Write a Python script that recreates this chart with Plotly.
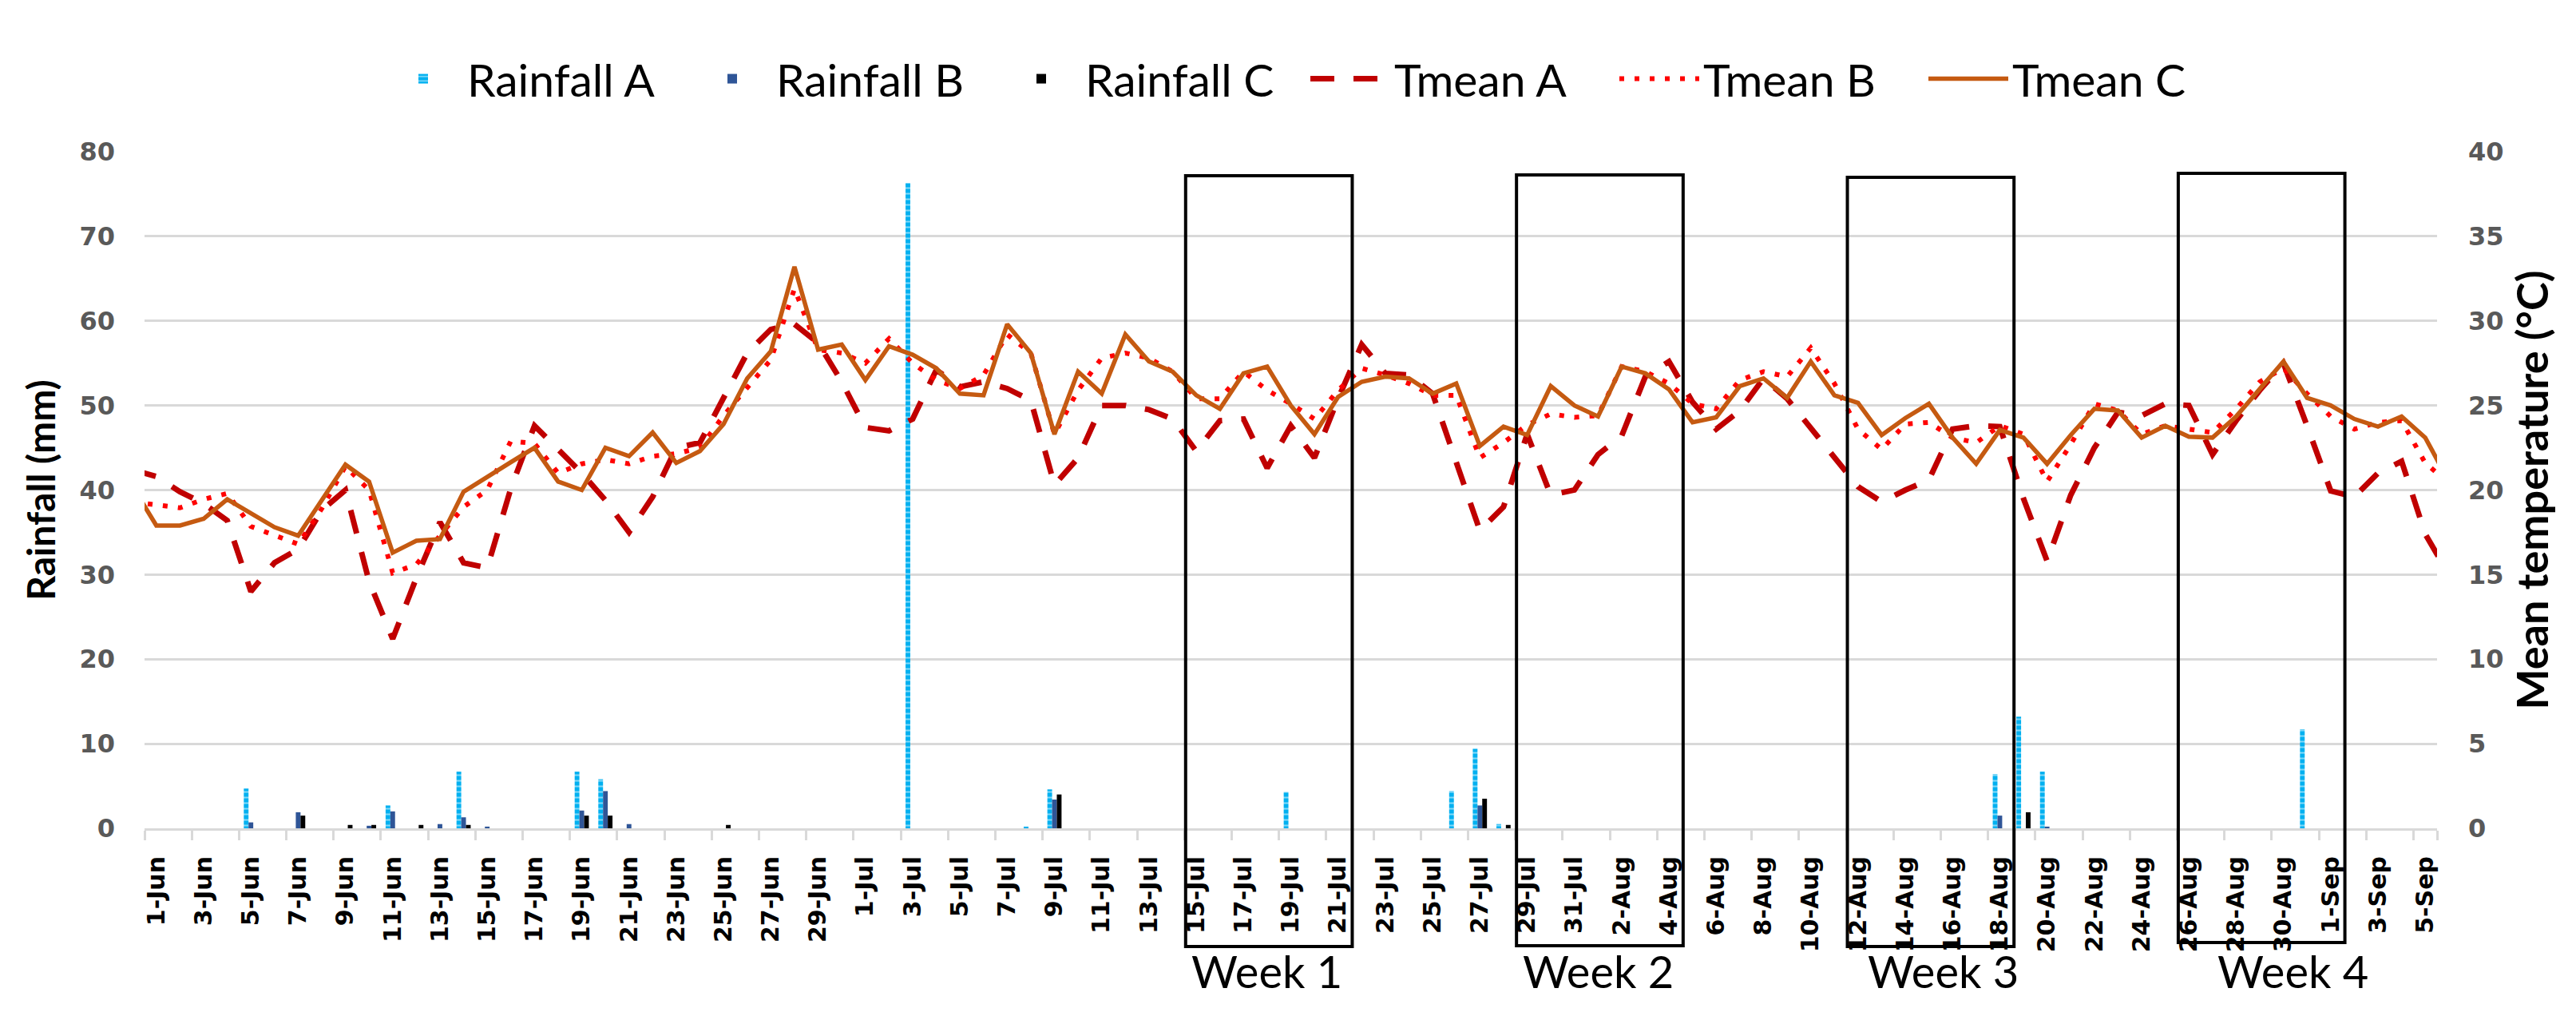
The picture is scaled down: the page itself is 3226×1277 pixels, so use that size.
import pandas as pd
import plotly.graph_objects as go

# ---------------- data ----------------
days = pd.date_range("2019-06-01", "2019-09-05", freq="D")          # 97 days
day_labels = [f"{d.day}-{d.strftime('%b')}" for d in days]

# daily rainfall (mm), 1-Jun .. 5-Sep
rain_a = ([0, 0, 0, 0, 4.7, 0, 0, 0, 0, 0, 2.7, 0, 0, 6.7, 0, 0, 0, 0, 6.7, 5.8,
           0, 0, 0, 0, 0, 0, 0, 0, 0, 0] +
          [0, 0, 76.3, 0, 0, 0, 0, 0.2, 4.6, 0, 0, 0, 0, 0, 0, 0, 0, 0, 4.3, 0,
           0, 0, 0, 0, 0, 4.4, 9.4, 0.5, 0, 0, 0] +
          [0, 0, 0, 0, 0, 0, 0, 0, 0, 0, 0, 0, 0, 0, 0, 0, 0, 6.4, 13.2, 6.7,
           0, 0, 0, 0, 0, 0, 0, 0, 0, 0, 11.7] +
          [0, 0, 0, 0, 0])
rain_b = ([0, 0, 0, 0, 0.7, 0, 1.9, 0, 0, 0.3, 2.0, 0, 0.5, 1.3, 0.2, 0, 0, 0, 2.1, 4.4,
           0.5, 0, 0, 0, 0, 0, 0, 0, 0, 0] +
          [0, 0, 0, 0, 0, 0, 0, 0, 3.4, 0, 0, 0, 0, 0, 0, 0, 0, 0, 0, 0,
           0, 0, 0, 0, 0, 0, 2.7, 0, 0, 0, 0] +
          [0, 0, 0, 0, 0, 0, 0, 0, 0, 0, 0, 0, 0, 0, 0, 0, 0, 1.5, 0, 0.2,
           0, 0, 0, 0, 0, 0, 0, 0, 0, 0, 0] +
          [0, 0, 0, 0, 0])
rain_c = ([0, 0, 0, 0, 0, 0, 1.5, 0, 0.4, 0.4, 0, 0.4, 0, 0.4, 0, 0, 0, 0, 1.5, 1.5,
           0, 0, 0, 0, 0.4, 0, 0, 0, 0, 0] +
          [0, 0, 0, 0, 0, 0, 0, 0, 4.0, 0, 0, 0, 0, 0, 0, 0, 0, 0, 0, 0,
           0, 0, 0, 0, 0, 0, 3.5, 0.4, 0, 0, 0] +
          [0, 0, 0, 0, 0, 0, 0, 0, 0, 0, 0, 0, 0, 0, 0, 0, 0, 0, 1.9, 0,
           0, 0, 0, 0, 0, 0, 0, 0, 0, 0, 0] +
          [0, 0, 0, 0, 0])

# daily mean temperature (degC), 31-May .. 6-Sep (end days fall just outside the axis)
tmean_a = [21.2,
           20.8, 19.9, 19.2, 18.2, 14.0, 15.7, 16.5, 18.8, 20.0, 14.6,
           11.2, 14.8, 18.1, 15.7, 15.4, 20.1, 23.8, 22.4, 21.0, 19.4,
           17.5, 19.6, 22.5, 22.8, 25.4, 28.1, 29.5, 29.8, 28.7, 26.4,
           23.7, 23.5, 24.2, 27.1, 26.1, 26.4, 26.0, 25.3, 20.3, 21.9,
           25.0, 25.0, 24.75, 24.2, 22.3, 24.1, 24.2, 21.3, 23.8, 21.9,
           25.4, 28.6, 26.9, 26.8, 25.7, 21.7, 17.6, 19.0, 23.3, 19.7,
           20.0, 22.1, 23.2, 26.7, 27.6, 25.2, 23.6, 24.7, 26.6, 25.4,
           23.7, 22.0, 20.2, 19.3, 20.0, 20.6, 23.6, 23.8, 23.75, 19.5,
           15.8, 19.7, 22.5, 24.6, 24.4, 25.1, 25.0, 22.1, 24.1, 25.9,
           27.5, 23.8, 19.95, 19.6, 21.0, 21.7, 17.4,
           15.0]
tmean_b = [19.3,
           19.1, 18.95, 19.45, 19.8, 17.85, 17.35, 16.8, 18.9, 21.4, 20.0,
           15.1, 15.6, 17.3, 19.0, 20.0, 22.9, 22.75, 21.0, 21.55, 21.8,
           21.55, 22.0, 22.15, 22.5, 24.4, 26.1, 27.7, 31.9, 28.3, 28.1,
           27.5, 28.95, 27.5, 26.5, 26.0, 26.8, 29.2, 28.1, 23.3, 25.9,
           27.8, 28.1, 27.8, 27.0, 25.4, 25.4, 27.0, 25.9, 25.1, 24.2,
           25.9, 27.2, 26.8, 26.3, 25.6, 25.6, 21.9, 22.8, 23.85, 24.5,
           24.3, 24.4, 27.3, 27.0, 26.3, 25.1, 24.8, 26.5, 27.0, 26.7,
           28.4, 26.3, 23.6, 22.4, 23.9, 24.0, 23.1, 22.8, 23.8, 23.3,
           20.5, 22.7, 25.1, 24.7, 23.3, 23.8, 23.6, 23.4, 24.8, 26.4,
           27.2, 25.7, 24.35, 23.6, 24.0, 24.1, 21.6,
           20.4]
tmean_c = [20.2,
           17.9, 17.9, 18.3, 19.45, 18.6, 17.8, 17.3, 19.4, 21.5, 20.5,
           16.3, 17.0, 17.1, 19.9, 20.8, 21.65, 22.5, 20.5, 20.0, 22.5,
           22.0, 23.4, 21.6, 22.3, 23.9, 26.6, 28.2, 33.2, 28.3, 28.6,
           26.5, 28.5, 28.0, 27.2, 25.7, 25.6, 29.8, 28.1, 23.3, 27.0,
           25.7, 29.2, 27.6, 27.0, 25.6, 24.8, 26.9, 27.3, 25.0, 23.3,
           25.5, 26.4, 26.7, 26.6, 25.7, 26.3, 22.6, 23.75, 23.25, 26.15,
           25.0, 24.35, 27.3, 26.9, 25.95, 24.0, 24.3, 26.15, 26.6, 25.45,
           27.6, 25.6, 25.15, 23.25, 24.25, 25.1, 23.1, 21.55, 23.55, 23.1,
           21.55, 23.25, 24.8, 24.7, 23.1, 23.8, 23.15, 23.1, 24.35, 25.95,
           27.6, 25.45, 25.0, 24.2, 23.75, 24.35, 23.1,
           20.5]

# highlighted weeks: (first day label, last day label, caption)
weeks = [("15-Jul", "21-Jul", "Week 1"), ("29-Jul", "4-Aug", "Week 2"),
         ("12-Aug", "18-Aug", "Week 3"), ("26-Aug", "1-Sep", "Week 4")]

# ---------------- figure ----------------
x_bar = list(range(len(day_labels)))
x_line = list(range(-1, len(day_labels) + 1))

fig = go.Figure()
fig.add_bar(x=x_bar, y=rain_a, name="Rainfall A",
            marker=dict(color="#00B0F0", line=dict(width=0),
                        pattern=dict(shape="-", fgcolor="white", size=7,
                                     solidity=0.3, fillmode="overlay")))
fig.add_bar(x=x_bar, y=rain_b, name="Rainfall B",
            marker=dict(color="#2F5597", line=dict(width=0)))
fig.add_bar(x=x_bar, y=rain_c, name="Rainfall C",
            marker=dict(color="#000000", line=dict(width=0)))

fig.add_scatter(x=x_line, y=tmean_a, name="Tmean A", mode="lines", yaxis="y2",
                line=dict(color="#C00000", width=7, dash="30px,24px"))
fig.add_scatter(x=x_line, y=tmean_b, name="Tmean B", mode="lines", yaxis="y2",
                line=dict(color="#FF0000", width=6, dash="6px,13px"))
fig.add_scatter(x=x_line, y=tmean_c, name="Tmean C", mode="lines", yaxis="y2",
                line=dict(color="#C55A11", width=5.5))

# plot area geometry (px)
W, H = 3226, 1277
ML, MR, MT, MB = 173, 182, 182, 248
PW = W - ML - MR
PH = H - MT - MB


def py(px):  # pixel row -> paper y
    return (H - MB - px) / PH


def pxx(px):  # pixel column -> paper x
    return (px - ML) / PW


box_tops = [212, 211, 214, 209]
box_bottoms = [1177, 1176, 1177, 1172]
box_pad_l, box_pad_r = 0.45, 0.6
label_shift = [0.0, 0.0, 0.6, 1.4]
for k, (d0, d1, cap) in enumerate(weeks):
    i0 = day_labels.index(d0)
    i1 = day_labels.index(d1)
    fig.add_shape(type="rect", xref="x", yref="paper",
                  x0=i0 - box_pad_l, x1=i1 + box_pad_r,
                  y0=py(box_bottoms[k]), y1=py(box_tops[k]),
                  line=dict(color="black", width=4), fillcolor="rgba(0,0,0,0)",
                  layer="above")
    fig.add_annotation(xref="x", yref="paper", x=(i0 + i1) / 2 + label_shift[k],
                       y=py(1207), text=cap, showarrow=False,
                       font=dict(family="Lato", size=56, color="black"),
                       xanchor="center", yanchor="middle")

grid = "#D9D9D9"
fig.update_layout(
    width=W, height=H,
    margin=dict(l=ML, r=MR, t=MT, b=MB, pad=0),
    paper_bgcolor="white", plot_bgcolor="white",
    barmode="group", bargap=0.4, bargroupgap=0,
    font=dict(family="Lato", color="black"),
    legend=dict(orientation="h", x=pxx(467), xanchor="left", y=py(91), yanchor="middle",
                font=dict(family="Lato", size=57, color="black"),
                itemwidth=100, entrywidth=272, entrywidthmode="pixels",
                traceorder="normal", bgcolor="rgba(0,0,0,0)"),
    xaxis=dict(range=[-0.5, len(day_labels) - 0.5], tickmode="array",
               tickvals=x_bar[::2], ticktext=day_labels[::2], tickangle=-90,
               ticks="", ticklabelstandoff=20,
               tickfont=dict(family="DejaVu Sans", size=30, color="black", weight="bold"),
               showgrid=False, zeroline=False,
               showline=True, linecolor=grid, linewidth=3,
               minor=dict(tickmode="array",
                          tickvals=[v - 0.5 for v in x_bar[::2]] + [len(day_labels) - 0.5],
                          ticks="outside", ticklen=12, tickwidth=3, tickcolor=grid,
                          showgrid=False)),
    yaxis=dict(range=[0, 80], dtick=10, showgrid=True, gridcolor=grid, gridwidth=3,
               zeroline=False, showline=False, ticks="", ticklabelstandoff=36,
               tickfont=dict(family="DejaVu Sans", size=32, color="#595959", weight="bold"),
               title=dict(text="Rainfall (mm)", standoff=14,
                          font=dict(family="Lato", size=48, color="black", weight="bold"))),
    yaxis2=dict(range=[0, 40], dtick=5, overlaying="y", side="right", showgrid=False,
                zeroline=False, showline=False, ticks="", ticklabelstandoff=38,
                tickfont=dict(family="DejaVu Sans", size=32, color="#595959", weight="bold"),
                title=dict(text="\u00a0" * 5 + "Mean temperature (°C)", standoff=18,
                           font=dict(family="Lato", size=54, color="black", weight="bold"))),
)

fig.write_html("out.html")
